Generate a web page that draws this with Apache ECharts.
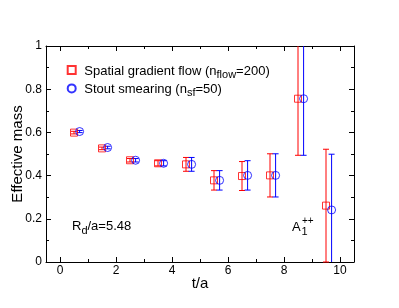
<!DOCTYPE html>
<html><head><meta charset="utf-8">
<script src="https://cdn.jsdelivr.net/npm/echarts@6/dist/echarts.min.js"></script>
<style>html,body{margin:0;padding:0;background:#fff}#c{width:399px;height:308px}</style>
</head><body><div id="c"></div>
<script>
const tRed = [0.5, 1.5, 2.5, 3.5, 4.5, 5.5, 6.5, 7.5, 8.5, 9.5];
const tBlue = [0.7, 1.7, 2.7, 3.7, 4.7, 5.7, 6.7, 7.7, 8.7, 9.7];
const massRed = [0.599, 0.526, 0.471, 0.457, 0.452, 0.378, 0.398, 0.401, 0.756, 0.261];
const errRed = [0.006, 0.006, 0.008, 0.012, 0.032, 0.045, 0.067, 0.100, 0.262, 0.261];
const massBlue = [0.604, 0.530, 0.471, 0.457, 0.452, 0.378, 0.401, 0.401, 0.756, 0.241];
const errBlue = [0.005, 0.006, 0.008, 0.012, 0.032, 0.045, 0.068, 0.100, 0.262, 0.258];
const xMajor = [0, 2, 4, 6, 8, 10];
const xMinor = [1, 3, 5, 7, 9];

const FONT = 'Liberation Sans, Arial, sans-serif';
const RED = '#ff0000', BLUE = '#0000ff';

function errData(t, m, e) { return t.map((x, i) => [x, m[i], e[i]]); }
function ptData(t, m) { return t.map((x, i) => [x, m[i]]); }

function errRender(color) {
  return function (params, api) {
    const x = api.value(0), y = api.value(1), e = api.value(2);
    const cs = params.coordSys;
    const pTop = api.coord([x, y + e]);
    const pBot = api.coord([x, y - e]);
    const yMin = cs.y, yMax = cs.y + cs.height;
    const yt = Math.max(pTop[1], yMin), yb = Math.min(pBot[1], yMax);
    const cx = pTop[0], w = 3;
    const st = { stroke: color, lineWidth: 1, fill: null };
    const ch = [{ type: 'line', shape: { x1: cx, y1: yt, x2: cx, y2: yb }, style: st }];
    if (pTop[1] >= yMin) ch.push({ type: 'line', shape: { x1: cx - w, y1: yt, x2: cx + w, y2: yt }, style: st });
    if (pBot[1] <= yMax) ch.push({ type: 'line', shape: { x1: cx - w, y1: yb, x2: cx + w, y2: yb }, style: st });
    return { type: 'group', children: ch };
  };
}

const axisLineStyle = { color: '#000', width: 1 };
const xBase = { type: 'value', min: -0.5, max: 10.5, gridIndex: 0, splitLine: { show: false } };
const richMain = { fontFamily: FONT, fontSize: 13, color: '#000', lineHeight: 15, verticalAlign: 'bottom' };
const richSub = { fontFamily: FONT, fontSize: 11, color: '#000', lineHeight: 15, verticalAlign: 'bottom', padding: [0, 0, -3, 0] };

const chart = echarts.init(document.getElementById('c'), null, { renderer: 'canvas' });
chart.setOption({
  animation: false,
  backgroundColor: '#fff',
  grid: { left: 46, right: 45, top: 46, bottom: 46, outerBoundsMode: 'none', containLabel: false },
  textStyle: { fontFamily: FONT },
  legend: {
    data: ['flow', 'stout'],
    orient: 'vertical',
    left: 66.7, top: 64.5, padding: 0,
    itemWidth: 8, itemHeight: 8, itemGap: 2.4,
    selectedMode: false,
    textStyle: {
      fontFamily: FONT, fontSize: 13, color: '#000',
      rich: {
        f: Object.assign({}, richMain, { padding: [0, 0, 0, 3.6] }),
        a: richMain,
        s: richSub
      }
    },
    formatter: function (n) {
      return n === 'flow' ? '{f|Spatial gradient flow (n}{s|flow}{a|=200)}' : '{f|Stout smearing (n}{s|sf}{a|=50)}';
    }
  },
  xAxis: [
    Object.assign({}, xBase, {
      position: 'bottom', name: 't/a', nameLocation: 'middle', nameGap: 14, nameMoveOverlap: false,
      nameTextStyle: { fontFamily: FONT, fontSize: 15, color: '#000' },
      axisLine: { show: true, onZero: false, lineStyle: axisLineStyle },
      axisTick: { show: true, inside: true, length: 5, customValues: xMajor, lineStyle: axisLineStyle },
      axisLabel: { show: true, customValues: xMajor, fontFamily: FONT, fontSize: 12, color: '#000', margin: 3 }
    }),
    Object.assign({}, xBase, {
      position: 'bottom',
      axisLine: { show: false, onZero: false },
      axisTick: { show: true, inside: true, length: 3, customValues: xMinor, lineStyle: axisLineStyle },
      axisLabel: { show: false }
    }),
    Object.assign({}, xBase, {
      position: 'top',
      axisLine: { show: true, onZero: false, lineStyle: axisLineStyle },
      axisTick: { show: true, inside: true, length: 5, customValues: xMajor, lineStyle: axisLineStyle },
      axisLabel: { show: false }
    }),
    Object.assign({}, xBase, {
      position: 'top',
      axisLine: { show: false, onZero: false },
      axisTick: { show: true, inside: true, length: 3, customValues: xMinor, lineStyle: axisLineStyle },
      axisLabel: { show: false }
    })
  ],
  yAxis: [
    {
      type: 'value', min: 0, max: 1, interval: 0.2, position: 'left',
      name: 'Effective mass', nameLocation: 'middle', nameGap: 20.5, nameRotate: 90, nameMoveOverlap: false,
      nameTextStyle: { fontFamily: FONT, fontSize: 15, color: '#000' },
      axisLine: { show: true, onZero: false, lineStyle: axisLineStyle },
      axisTick: { show: true, inside: true, length: 5, lineStyle: axisLineStyle },
      minorTick: { show: true, splitNumber: 2, length: 3, lineStyle: axisLineStyle },
      axisLabel: { fontFamily: FONT, fontSize: 12, color: '#000', margin: 4 },
      splitLine: { show: false }
    },
    {
      type: 'value', min: 0, max: 1, interval: 0.2, position: 'right',
      axisLine: { show: true, onZero: false, lineStyle: axisLineStyle },
      axisTick: { show: true, inside: true, length: 5, lineStyle: axisLineStyle },
      minorTick: { show: true, splitNumber: 2, length: 3, lineStyle: axisLineStyle },
      axisLabel: { show: false },
      splitLine: { show: false }
    }
  ],
  series: [
    { type: 'custom', name: 'errRed', xAxisIndex: 0, yAxisIndex: 0, data: errData(tRed, massRed, errRed), renderItem: errRender(RED), z: 3 },
    { type: 'custom', name: 'errBlue', xAxisIndex: 0, yAxisIndex: 0, data: errData(tBlue, massBlue, errBlue), renderItem: errRender(BLUE), z: 3 },
    { type: 'scatter', name: 'flow', xAxisIndex: 0, yAxisIndex: 0, data: ptData(tRed, massRed), symbol: 'rect', symbolSize: 7,
      itemStyle: { color: 'rgba(255,255,255,0)', borderColor: RED, borderWidth: 1 }, z: 4 },
    { type: 'scatter', name: 'stout', xAxisIndex: 0, yAxisIndex: 0, data: ptData(tBlue, massBlue), symbol: 'circle', symbolSize: 8,
      itemStyle: { color: 'rgba(255,255,255,0)', borderColor: BLUE, borderWidth: 1 }, z: 4 }
  ],
  graphic: [
    { type: 'text', left: 72, top: 220, style: { text: '{a|R}{s|d}{a|/a=5.48}', fill: '#000',
      rich: { a: richMain, s: richSub } } },
    { type: 'text', left: 292, top: 221, style: { text: 'A', fill: '#000', font: '13px ' + FONT } },
    { type: 'text', left: 301.5, top: 226.5, style: { text: '1', fill: '#000', font: '11px ' + FONT } },
    { type: 'text', left: 302, top: 216, style: { text: '++', fill: '#000', font: '10px ' + FONT } }
  ]
});
</script></body></html>
